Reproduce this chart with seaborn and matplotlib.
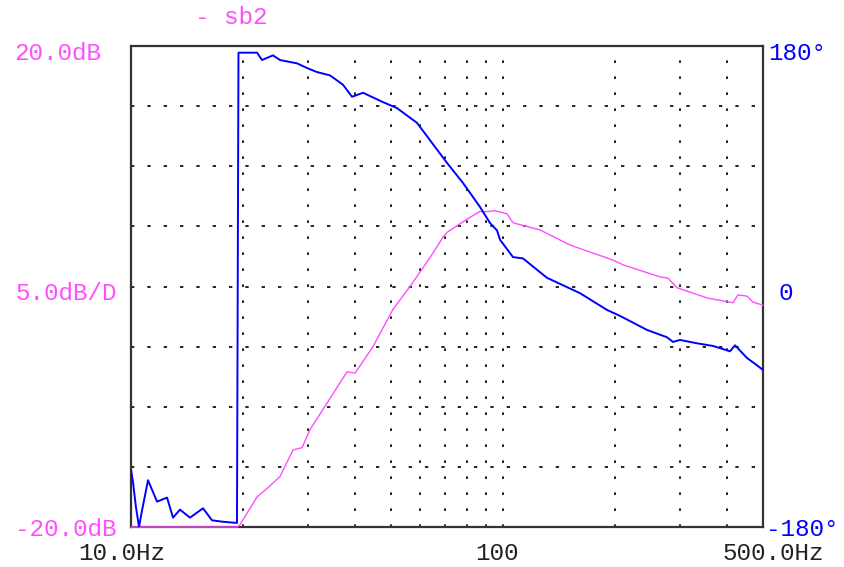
import matplotlib
matplotlib.use("Agg")
import matplotlib.pyplot as plt
import seaborn as sns
import pandas as pd

# ---- data ----
mag_freq = [10.0, 19.3, 19.64, 21.82, 23.21, 25.15, 27.26, 28.83, 30.29, 33.64,
            38.08, 40.02, 44.73, 50.61, 56.23, 63.64, 68.99, 70.72, 80.0, 86.76,
            88.39, 95.0, 102.5, 106.4, 125.8, 151.4, 197.5, 210.2, 264.3, 277.7,
            293.6, 353.6, 415.3, 428.3, 452.9, 470.0, 500.0]
mag_db = [-20.0, -20.0, -19.8, -17.5, -16.8, -15.8, -13.6, -13.4, -11.9, -9.7,
          -7.1, -7.2, -5.0, -1.9, 0.0, 2.4, 4.1, 4.5, 5.6, 6.25,
          6.2, 6.3, 6.05, 5.3, 4.7, 3.45, 2.2, 1.8, 0.8, 0.7,
          -0.1, -0.95, -1.35, -0.7, -0.8, -1.3, -1.55]

ph_freq = [10.0, 10.12, 10.31, 10.51, 10.70, 11.11, 11.75, 12.50, 12.97, 13.54,
           14.41, 15.62, 16.51, 17.56, 19.27, 19.45, 19.88, 21.82, 22.50, 24.08,
           25.15, 27.95, 29.73, 31.62, 34.28, 37.15, 39.28, 42.05, 47.58, 51.89,
           58.72, 63.64, 70.72, 78.07, 86.76, 92.28, 96.36, 98.17, 106.4, 113.2,
           131.3, 161.1, 190.3, 206.3, 243.9, 276.0, 286.4, 299.1, 332.3, 366.9,
           407.6, 420.5, 452.9, 481.9, 500.0]
ph_deg = [-137, -146, -165, -180, -168, -145, -161, -158, -173, -167,
          -173, -166, -175, -176, -177, 175, 175, 175, 169.5, 173,
          169.5, 167, 163.5, 160.5, 158, 151, 142, 145, 138, 133.5,
          122.5, 109.5, 92.5, 77.5, 59.5, 47.5, 42, 35, 22, 21,
          6.5, -5, -17.5, -22, -32.5, -38, -41.5, -40, -42.5, -44.5,
          -48.5, -44, -53.5, -59, -62.5]

grid_freqs = [20, 30, 40, 50, 60, 70, 80, 90, 100, 200, 300, 400]
db_grid = [-15, -10, -5, 0, 5, 10, 15]

MAG = "#ff4dff"
PH = "#0000ff"

sns.set_theme(style="white")
plt.rcParams["font.family"] = ["Liberation Mono", "DejaVu Sans Mono", "DejaVu Sans"]

W, H = 844, 567
fig = plt.figure(figsize=(W / 100, H / 100), dpi=100)
L, R, T, B = 131, 763, 46, 527
ax = fig.add_axes([L / W, 1 - B / H, (R - L) / W, (B - T) / H])
ax2 = ax.twinx()

mag_df = pd.DataFrame({"freq": mag_freq, "db": mag_db})
ph_df = pd.DataFrame({"freq": ph_freq, "deg": ph_deg})

sns.lineplot(data=mag_df, x="freq", y="db", ax=ax, color=MAG, linewidth=1.0,
             sort=False, estimator=None, zorder=3, clip_on=False)
sns.lineplot(data=ph_df, x="freq", y="deg", ax=ax2, color=PH, linewidth=1.4,
             sort=False, estimator=None, zorder=3)

for a in (ax, ax2):
    a.set_xscale("log")
    a.set_xlim(10, 500)
    a.set_xlabel("")
    a.set_ylabel("")
ax.set_ylim(-20, 20)
ax2.set_ylim(-180, 180)

ax.set_xticks(grid_freqs)
ax.set_xticks([], minor=True)
ax.set_yticks(db_grid)
ax.tick_params(length=0, labelbottom=False, labelleft=False)
ax2.set_yticks([])
ax2.tick_params(length=0, labelright=False)

ax.xaxis.grid(True, color="black", linewidth=1.2, linestyle=(0, (1.6, 8.0)))
ax.yaxis.grid(True, color="black", linewidth=1.2, linestyle=(0, (2.0, 7.8)))
ax.set_axisbelow(True)

for s in ax.spines.values():
    s.set_color("#333333")
    s.set_linewidth(1.6)
    s.set_zorder(2.5)
for s in ax2.spines.values():
    s.set_visible(False)

fs = 17.5

def px(x, y, txt, color, ha="left"):
    fig.text(x / W, 1 - y / H, txt, color=color, fontsize=fs, ha=ha, va="center")

px(195, 18, "- sb2", MAG)
px(101, 54, "20.0dB", MAG, ha="right")
px(117, 293, "5.0dB/D", MAG, ha="right")
px(117, 530, "-20.0dB", MAG, ha="right")
px(768, 54, "180°", PH)
px(778, 293, "0", PH)
px(766, 530, "-180°", PH)
px(122, 553, "10.0Hz", "#222222", ha="center")
px(497, 553, "100", "#222222", ha="center")
px(773, 553, "500.0Hz", "#222222", ha="center")

fig.savefig("out.png", dpi=100)
